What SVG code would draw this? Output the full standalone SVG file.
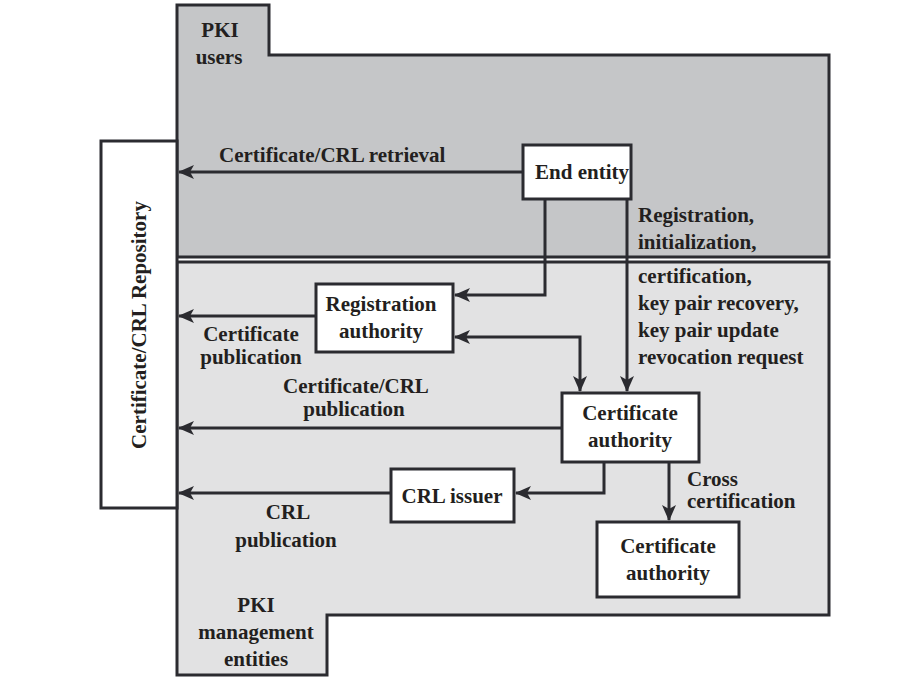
<svg xmlns="http://www.w3.org/2000/svg" width="923" height="684" viewBox="0 0 923 684">
<style>
text{font-family:"Liberation Serif","Times New Roman",serif;font-weight:bold;font-size:21px;fill:#231f20}
.c{text-anchor:middle}
.reg{stroke:#2b2b30;stroke-width:3}
.box{fill:#fff;stroke:#2b2b30;stroke-width:3}
.ln{fill:none;stroke:#2b2b30;stroke-width:3}
</style>
<defs>
<marker id="ah" viewBox="0 0 16 14" refX="15" refY="7" markerWidth="16" markerHeight="14" markerUnits="userSpaceOnUse" orient="auto-start-reverse">
<path d="M0,0 L16,7 L0,14 L4,7 Z" fill="#2b2b30"/>
</marker>
</defs>
<g id="pki-users">
<path class="reg" fill="#c5c6c8" d="M177,5 H269 V55 H829 V257 H177 Z"/>
<text class="c" x="220" y="37">PKI</text>
<text class="c" x="219" y="64">users</text>
</g>
<g id="pki-management">
<path class="reg" fill="#e2e2e3" d="M177,262 H829 V615 H327 V675 H177 Z"/>
<text class="c" x="256" y="612">PKI</text>
<text class="c" x="256" y="639">management</text>
<text class="c" x="256" y="666">entities</text>
</g>
<g id="repository">
<rect class="box" x="101" y="141" width="76" height="367"/>
<text class="c" transform="translate(146,325) rotate(-90)">Certificate/CRL Repository</text>
</g>
<g id="connectors">
<path class="ln" d="M523,172 H179" marker-end="url(#ah)"/>
<path class="ln" d="M545,199 V295 H455" marker-end="url(#ah)"/>
<path class="ln" d="M627,199 V391" marker-end="url(#ah)"/>
<path class="ln" d="M455,337 H580 V391" marker-start="url(#ah)" marker-end="url(#ah)"/>
<path class="ln" d="M316,316 H179" marker-end="url(#ah)"/>
<path class="ln" d="M562,428 H179" marker-end="url(#ah)"/>
<path class="ln" d="M604,462 V493 H516" marker-end="url(#ah)"/>
<path class="ln" d="M391,493 H179" marker-end="url(#ah)"/>
<path class="ln" d="M669,462 V520" marker-end="url(#ah)"/>
<text x="219" y="162">Certificate/CRL retrieval</text>
<text x="638" y="222">Registration,</text>
<text x="638" y="249">initialization,</text>
<text x="638" y="283">certification,</text>
<text x="638" y="310">key pair recovery,</text>
<text x="638" y="337">key pair update</text>
<text x="638" y="364">revocation request</text>
<text class="c" x="251" y="341">Certificate</text>
<text class="c" x="251" y="364">publication</text>
<text class="c" x="356" y="393">Certificate/CRL</text>
<text class="c" x="354" y="416">publication</text>
<text class="c" x="288" y="519">CRL</text>
<text class="c" x="286" y="547">publication</text>
<text x="687" y="486">Cross</text>
<text x="687" y="508">certification</text>
</g>
<g id="end-entity">
<rect class="box" x="523" y="145" width="108" height="54"/>
<text class="c" x="582" y="179">End entity</text>
</g>
<g id="registration-authority">
<rect class="box" x="316" y="284" width="137" height="68"/>
<text class="c" x="381" y="311">Registration</text>
<text class="c" x="381" y="338">authority</text>
</g>
<g id="certificate-authority">
<rect class="box" x="562" y="393" width="137" height="69"/>
<text class="c" x="630" y="420">Certificate</text>
<text class="c" x="630" y="447">authority</text>
</g>
<g id="crl-issuer">
<rect class="box" x="391" y="469" width="123" height="53"/>
<text class="c" x="452" y="503">CRL issuer</text>
</g>
<g id="certificate-authority-2">
<rect class="box" x="597" y="522" width="142" height="75"/>
<text class="c" x="668" y="553">Certificate</text>
<text class="c" x="668" y="580">authority</text>
</g>
</svg>
